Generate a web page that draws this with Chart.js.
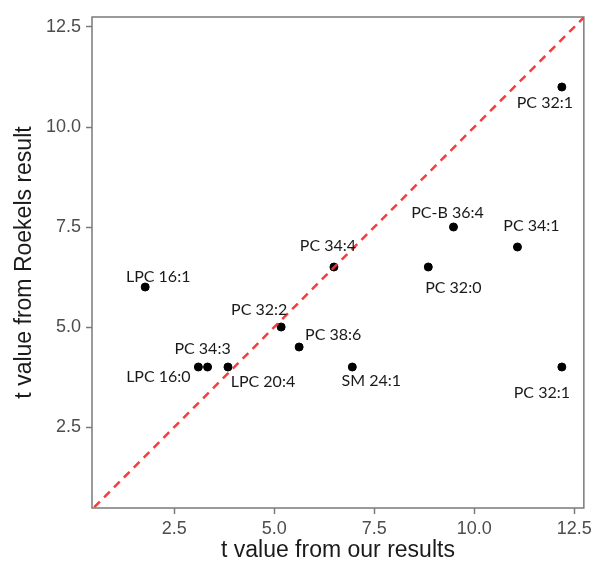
<!DOCTYPE html>
<html>
<head>
<meta charset="utf-8">
<script src="https://cdn.jsdelivr.net/npm/chart.js@4/dist/chart.umd.min.js"></script>
<style>
  html, body { margin: 0; padding: 0; background: #fff; }
  canvas { display: block; }
</style>
</head>
<body>
<canvas id="tvalueChart" width="596" height="567"></canvas>
<script>
// lipid species and their t values from the two analyses
const lipids = ["PC 32:1", "PC-B 36:4", "PC 34:1", "PC 32:0", "PC 32:1", "LPC 16:1", "PC 34:4",
                "PC 32:2", "PC 38:6", "LPC 16:0", "PC 34:3", "LPC 20:4", "SM 24:1"];
const ourT     = [12.19, 9.48, 11.08, 8.85, 12.19, 1.77, 6.49, 5.17, 5.62, 3.10, 3.33, 3.84, 6.95];
const roekelsT = [11.0,  7.5,  7.0,   6.5,  4.0,   6.0,  6.5,  5.0,  4.5,  4.0,  4.0,  4.0,  4.0];

const xTicks = [2.5, 5.0, 7.5, 10.0, 12.5];
const yTicks = [2.5, 5.0, 7.5, 10.0, 12.5];
const xRange = [0.44, 12.74];
const yRange = [0.475, 12.75];
// identity line y = x
const identity = [0, 13];

// label placement relative to each point (px)
const labelOffsets = [
    [-17, 16], [-6, -14], [14, -21], [25, 21], [-20, 26], [13, -10], [-6, -21],
    [-22, -17], [34, -12], [-40, 10], [-5, -18], [35, 15], [19, 14]
];

const axisGrey = "#7a7a7a";
const tickText = "#4d4d4d";
const titleText = "#1a1a1a";

const pointLabels = {
    id: "pointLabels",
    afterDatasetsDraw(chart) {
        const ctx = chart.ctx;
        const meta = chart.getDatasetMeta(1);
        ctx.save();
        ctx.font = "16px Lato";
        ctx.fillStyle = "#1a1a1a";
        ctx.textAlign = "center";
        ctx.textBaseline = "middle";
        meta.data.forEach((pt, i) => {
            const [dx, dy] = labelOffsets[i];
            ctx.fillText(lipids[i], pt.x + dx, pt.y + dy);
        });
        ctx.restore();
    }
};

const panelBorder = {
    id: "panelBorder",
    afterDraw(chart) {
        const {left, top, right, bottom} = chart.chartArea;
        const ctx = chart.ctx;
        ctx.save();
        ctx.strokeStyle = axisGrey;
        ctx.lineWidth = 1.5;
        ctx.strokeRect(left, top, right - left, bottom - top);
        ctx.restore();
    }
};

const ctx = document.getElementById("tvalueChart").getContext("2d");

new Chart(ctx, {
    type: "scatter",
    data: {
        datasets: [
            {
                type: "line",
                data: identity.map(v => ({x: v, y: v})),
                borderColor: "rgba(245, 50, 50, 0.95)",
                borderWidth: 2.5,
                borderDash: [8, 6],
                pointRadius: 0,
                fill: false
            },
            {
                data: ourT.map((x, i) => ({x: x, y: roekelsT[i]})),
                backgroundColor: "#000",
                borderColor: "#000",
                pointRadius: 4,
                pointHoverRadius: 4
            }
        ]
    },
    options: {
        responsive: false,
        animation: false,
        events: [],
        layout: {
            padding: {top: 17, right: 12, left: 0, bottom: 0}
        },
        plugins: {
            legend: {display: false},
            tooltip: {enabled: false}
        },
        scales: {
            x: {
                type: "linear",
                min: xRange[0],
                max: xRange[1],
                afterBuildTicks: scale => { scale.ticks = xTicks.map(v => ({value: v})); },
                afterFit: scale => { scale.height = 59; },
                ticks: {
                    color: tickText,
                    font: {family: "Liberation Sans", size: 18},
                    padding: 4,
                    callback: v => v.toFixed(1)
                },
                grid: {
                    drawOnChartArea: false,
                    drawTicks: true,
                    tickLength: 6,
                    tickColor: axisGrey,
                    tickWidth: 1.5
                },
                border: {display: false},
                title: {
                    display: true,
                    text: "t value from our results",
                    color: titleText,
                    font: {family: "Liberation Sans", size: 23},
                    padding: {top: 0, bottom: 3}
                }
            },
            y: {
                type: "linear",
                min: yRange[0],
                max: yRange[1],
                afterBuildTicks: scale => { scale.ticks = yTicks.map(v => ({value: v})); },
                afterFit: scale => { scale.width = 92; },
                ticks: {
                    color: tickText,
                    font: {family: "Liberation Sans", size: 18},
                    padding: 5,
                    callback: v => v.toFixed(1)
                },
                grid: {
                    drawOnChartArea: false,
                    drawTicks: true,
                    tickLength: 6,
                    tickColor: axisGrey,
                    tickWidth: 1.5
                },
                border: {display: false},
                title: {
                    display: true,
                    text: "t value from Roekels result",
                    color: titleText,
                    font: {family: "Liberation Sans", size: 23},
                    padding: {top: 11, bottom: 0}
                }
            }
        }
    },
    plugins: [pointLabels, panelBorder]
});
</script>
</body>
</html>
